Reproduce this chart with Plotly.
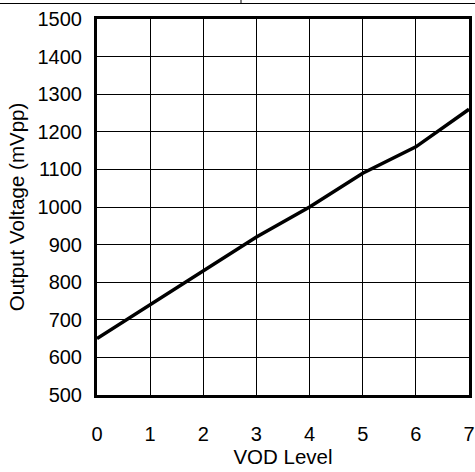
import plotly.graph_objects as go

vod_level = [0, 1, 2, 3, 4, 5, 6, 7]
output_mvpp = [650, 740, 830, 920, 1000, 1090, 1160, 1260]
x_ticks = [0, 1, 2, 3, 4, 5, 6, 7]
y_ticks = [500, 600, 700, 800, 900, 1000, 1100, 1200, 1300, 1400, 1500]

fig = go.Figure()
fig.add_trace(go.Scatter(x=vod_level, y=output_mvpp, mode="lines",
                         line=dict(color="black", width=3.5), showlegend=False,
                         hoverinfo="skip"))

tick_font = dict(family="Liberation Sans, Arial, sans-serif", size=20, color="black")
title_font = dict(family="Liberation Sans, Arial, sans-serif", size=20.5, color="black")

L, R, T, B = 97, 6, 19, 77
W, H = 475, 472
pw, ph = W - L - R, H - T - B
top_y = 1 + (T - 3.5) / ph

fig.update_layout(
    width=W, height=H,
    margin=dict(l=L, r=R, t=T, b=B, autoexpand=False),
    paper_bgcolor="white", plot_bgcolor="white",
    font=tick_font,
    xaxis=dict(range=[0, 7], tickvals=x_ticks, showgrid=True, gridcolor="black", gridwidth=1,
               showline=True, linecolor="black", linewidth=3, mirror=True,
               ticks="outside", ticklen=0, ticklabelstandoff=19, zeroline=False,
               tickfont=tick_font, automargin=False,
               title=dict(text="VOD Level", standoff=5, font=title_font)),
    yaxis=dict(range=[500, 1500], tickvals=y_ticks, showgrid=True, gridcolor="black", gridwidth=1,
               showline=True, linecolor="black", linewidth=3, mirror=True,
               ticks="outside", ticklen=0, ticklabelstandoff=8, zeroline=False,
               tickfont=tick_font, automargin=False,
               title=dict(text="Output Voltage (mVpp)", standoff=8, font=title_font)),
    shapes=[
        dict(type="line", xref="paper", yref="paper", layer="above",
             x0=-L / pw, x1=(W - L) / pw, y0=top_y, y1=top_y,
             line=dict(color="black", width=1)),
        dict(type="line", xref="paper", yref="paper", layer="above",
             x0=(241 - L) / pw, x1=(241 - L) / pw, y0=top_y, y1=1 + (T + 1) / ph,
             line=dict(color="black", width=1)),
    ],
)

fig.write_html("out.html", config={"displayModeBar": False},
               post_script="document.body.style.margin='0px';")
